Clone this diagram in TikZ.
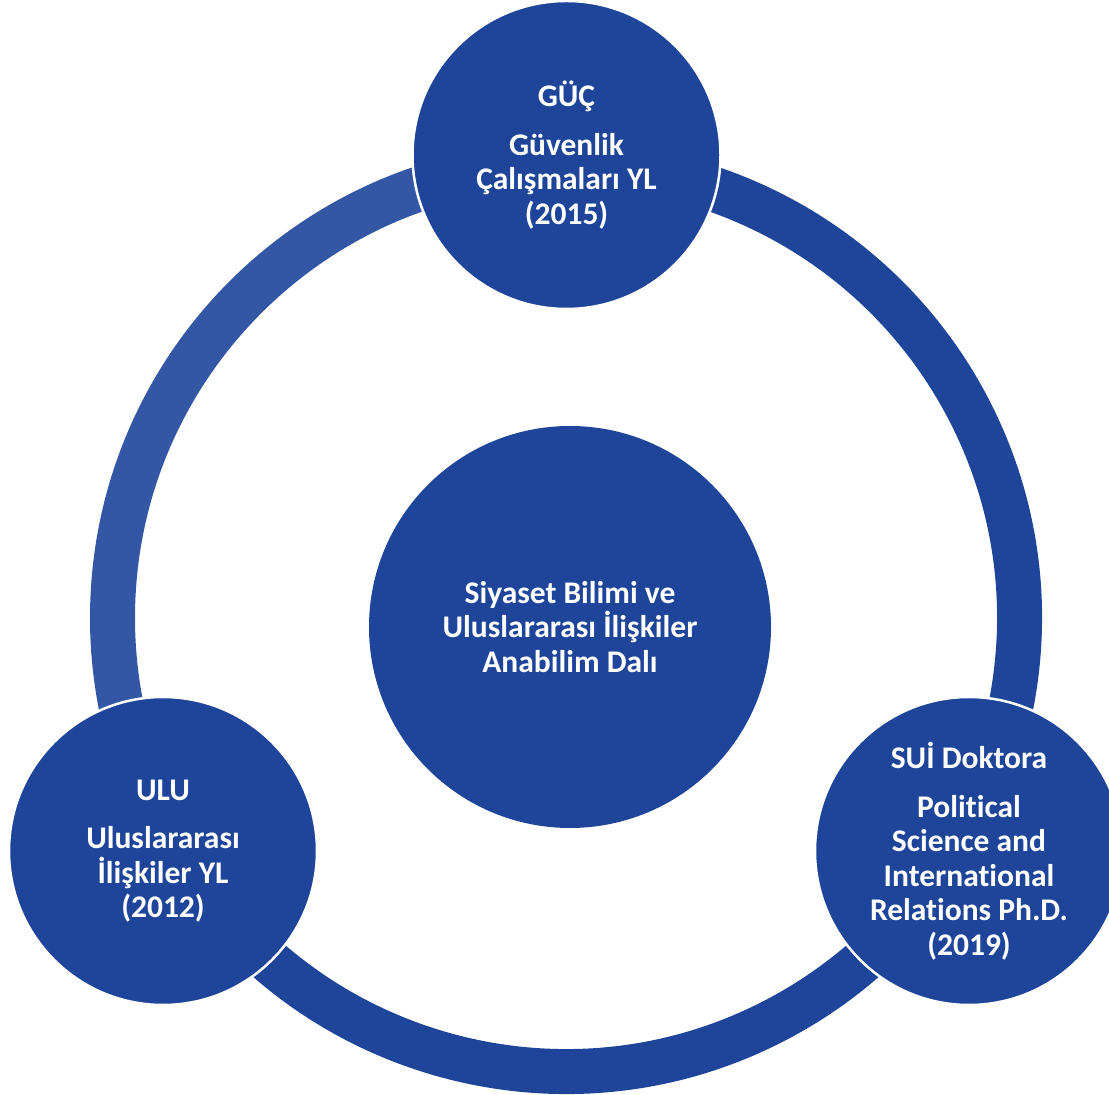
\documentclass[tikz,border=0pt]{standalone}
\usepackage{fontspec}
\setmainfont{Carlito}[Ligatures=NoCommon]
\usetikzlibrary{positioning}
\definecolor{ringblue}{RGB}{30,69,154}
\definecolor{ringlight}{RGB}{51,86,165}

\begin{document}
\begin{tikzpicture}[x=1pt, y=1pt,
	stage/.style={circle, fill=ringblue, draw=white, line width=2.5pt, text=white, align=center, inner sep=0pt, minimum size=308pt, font=\bfseries\fontsize{31.5}{34.5}\selectfont},
	ring/.style={line width=45pt}]
	\useasboundingbox (0,0) rectangle (1109,1095);
	\coordinate (c) at (566,477);
	\draw[ring, ringlight] (c) ++(90:453.5pt) arc[start angle=90, end angle=210, radius=453.5pt];
	\draw[ring, ringblue] (c) ++(210:453.5pt) arc[start angle=210, end angle=450, radius=453.5pt];
	\node[stage] (guc) at (566.5,940) {GÜÇ\\[14pt]Güvenlik\\Çalışmaları YL\\(2015)};
	\node[stage] (ulu) at (163,244) {ULU\\[14pt]Uluslararası\\İlişkiler YL\\(2012)};
	\node[stage] (sui) at (969,244) {SUİ Doktora\\[14pt]Political\\Science and\\International\\Relations Ph.D.\\(2019)};
	\node[stage, draw=none, minimum size=402pt] (sbui) at (570,468) {Siyaset Bilimi ve\\Uluslararası İlişkiler\\Anabilim Dalı};
\end{tikzpicture}
\end{document}
